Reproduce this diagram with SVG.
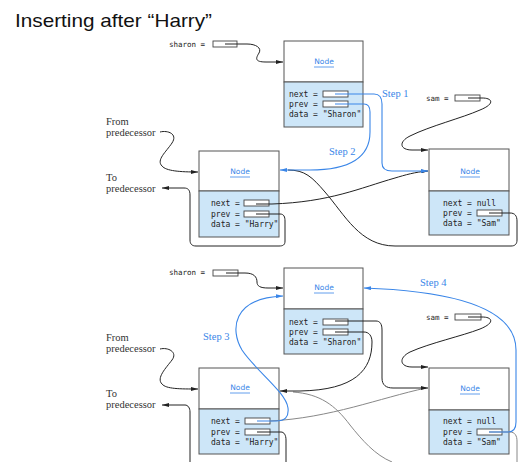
<svg xmlns="http://www.w3.org/2000/svg" width="518" height="462" viewBox="0 0 518 462">
<defs>
<style>
.title{font-family:"Liberation Sans",Arial,sans-serif;font-size:19px;fill:#111}
.mono{font-family:"DejaVu Sans Mono","Liberation Mono",monospace;font-size:8px;fill:#222}
.var{font-family:"DejaVu Sans Mono","Liberation Mono",monospace;font-size:7.5px;fill:#222}
.serif{font-family:"Liberation Serif","Times New Roman",serif;font-size:10.5px;fill:#333}
.step{font-family:"Liberation Serif","Times New Roman",serif;font-size:10.5px;fill:#3a86e8}
.nl{font-family:"DejaVu Sans",sans-serif;font-size:7.5px;fill:#3a86e8;text-anchor:middle}
.ul{stroke:#3a86e8;stroke-width:0.8}
.hdr{fill:#fff;stroke:#555;stroke-width:1}
.body{fill:#cde6f8;stroke:#555;stroke-width:1}
.ptr{fill:#fff;stroke:#444;stroke-width:0.9}
.k{fill:none;stroke:#222;stroke-width:1}
.g{fill:none;stroke:#888;stroke-width:1}
.b{fill:none;stroke:#3a86e8;stroke-width:1.1}
</style>
<marker id="ak" viewBox="0 0 7 4" refX="7" refY="2" markerWidth="7" markerHeight="4" markerUnits="userSpaceOnUse" orient="auto"><path d="M0,0 L7,2 L0,4 z" fill="#222"/></marker>
<marker id="ab" viewBox="0 0 7 4" refX="7" refY="2" markerWidth="7" markerHeight="4" markerUnits="userSpaceOnUse" orient="auto"><path d="M0,0 L7,2 L0,4 z" fill="#3a86e8"/></marker>
</defs>
<rect width="518" height="462" fill="#fff"/>
<text class="title" x="15" y="27" textLength="197" lengthAdjust="spacingAndGlyphs">Inserting after “Harry”</text>

<!-- ===== Top figure ===== -->
<g id="sharon-var-1">
<text class="var" x="169" y="47">sharon =</text>
<rect class="ptr" x="213" y="41" width="24" height="6"/>
</g>
<g id="sam-var-1">
<text class="var" x="426" y="101">sam =</text>
<rect class="ptr" x="455" y="95" width="25" height="6"/>
</g>
<g id="from-pred-1"><text class="serif" x="106" y="125">From</text><text class="serif" x="106" y="136">predecessor</text></g>
<g id="to-pred-1"><text class="serif" x="106" y="181">To</text><text class="serif" x="106" y="192">predecessor</text></g>

<g id="node-sharon-1">
<rect class="hdr" x="284" y="41" width="79" height="41"/>
<rect class="body" x="284" y="82" width="79" height="45"/>
<text class="nl" x="324" y="64">Node</text><line class="ul" x1="314" y1="67" x2="334" y2="67"/>
<text class="mono" x="289" y="97">next =</text><rect class="ptr" x="323" y="91" width="25" height="6"/>
<text class="mono" x="289" y="107">prev =</text><rect class="ptr" x="323" y="101" width="25" height="6"/>
<text class="mono" x="289" y="117">data = "Sharon"</text>
</g>
<g id="node-harry-1">
<rect class="hdr" x="199" y="151" width="80" height="40"/>
<rect class="body" x="199" y="191" width="80" height="46"/>
<text class="nl" x="240" y="174">Node</text><line class="ul" x1="230" y1="177" x2="250" y2="177"/>
<text class="mono" x="211" y="206">next =</text><rect class="ptr" x="244" y="200" width="25" height="6"/>
<text class="mono" x="211" y="217">prev =</text><rect class="ptr" x="244" y="211" width="25" height="6"/>
<text class="mono" x="211" y="227">data = "Harry"</text>
</g>
<g id="node-sam-1">
<rect class="hdr" x="429" y="149" width="80" height="42"/>
<rect class="body" x="429" y="191" width="80" height="44"/>
<text class="nl" x="470" y="174">Node</text><line class="ul" x1="460" y1="177" x2="480" y2="177"/>
<text class="mono" x="443" y="206">next = null</text>
<text class="mono" x="443" y="216">prev =</text><rect class="ptr" x="477" y="210" width="25" height="6"/>
<text class="mono" x="443" y="226">data = "Sam"</text>
</g>
<g id="step-labels-1">
<text class="step" x="382" y="97">Step 1</text>
<text class="step" x="329" y="155">Step 2</text>
</g>

<!-- ===== Bottom figure ===== -->
<g id="sharon-var-2">
<text class="var" x="169" y="275">sharon =</text>
<rect class="ptr" x="213" y="270" width="25" height="6"/>
</g>
<g id="sam-var-2">
<text class="var" x="426" y="320">sam =</text>
<rect class="ptr" x="455" y="314" width="26" height="6"/>
</g>
<g id="from-pred-2"><text class="serif" x="106" y="341">From</text><text class="serif" x="106" y="352">predecessor</text></g>
<g id="to-pred-2"><text class="serif" x="106" y="397">To</text><text class="serif" x="106" y="408">predecessor</text></g>

<g id="node-sharon-2">
<rect class="hdr" x="284" y="268" width="79" height="41"/>
<rect class="body" x="284" y="309" width="79" height="45"/>
<text class="nl" x="324" y="290">Node</text><line class="ul" x1="314" y1="293" x2="334" y2="293"/>
<text class="mono" x="289" y="325">next =</text><rect class="ptr" x="323" y="319" width="25" height="6"/>
<text class="mono" x="289" y="335">prev =</text><rect class="ptr" x="323" y="329" width="25" height="6"/>
<text class="mono" x="289" y="345">data = "Sharon"</text>
</g>
<g id="node-harry-2">
<rect class="hdr" x="199" y="368" width="80" height="41"/>
<rect class="body" x="199" y="409" width="80" height="45"/>
<text class="nl" x="240" y="390">Node</text><line class="ul" x1="230" y1="393" x2="250" y2="393"/>
<text class="mono" x="211" y="424">next =</text><rect class="ptr" x="245" y="418" width="25" height="6"/>
<text class="mono" x="211" y="435">prev =</text><rect class="ptr" x="245" y="429" width="25" height="6"/>
<text class="mono" x="211" y="445">data = "Harry"</text>
</g>
<g id="node-sam-2">
<rect class="hdr" x="429" y="368" width="80" height="42"/>
<rect class="body" x="429" y="410" width="80" height="44"/>
<text class="nl" x="470" y="391">Node</text><line class="ul" x1="460" y1="394" x2="480" y2="394"/>
<text class="mono" x="443" y="424">next = null</text>
<text class="mono" x="443" y="435">prev =</text><rect class="ptr" x="477" y="429" width="25" height="6"/>
<text class="mono" x="443" y="445">data = "Sam"</text>
</g>
<g id="step-labels-2">
<text class="step" x="203" y="340">Step 3</text>
<text class="step" x="420" y="286">Step 4</text>
</g>

<g id="connectors">
<!-- top -->
<path class="k" d="M225,44 H247 C256,44 262,48 259,53 C256,58 254,62 266,62 H283" marker-end="url(#ak)"/>
<path class="k" d="M160,132 C168,130 178,134 172,143 C166,152 156,160 162,166 C166,171 180,172 198,172" marker-end="url(#ak)"/>
<path class="k" d="M256,214 H280 C284,214 285,217 285,221 V241 C285,245 283,246 279,246 H196 C192,246 190,244 190,240 V195 C190,190 188,188 184,188 H162" marker-end="url(#ak)"/>
<path class="k" d="M489,213 H510 C515,213 517,216 517,221 V240 C517,244 515,246 511,246 H395 C360,246 345,215 325,192 C312,177 305,170 288,170"/>
<path class="k" d="M468,98 H482 C493,98 495,104 480,110 C462,118 430,126 410,136 C398,142 400,150 412,150 H428" marker-end="url(#ak)"/>
<path class="k" d="M256,204 H272 C330,202 360,188 395,178 C405,175 415,172 428,171" marker-end="url(#ak)"/>
<path class="b" d="M335,94 H374 C380,94 382,98 382,104 V163 C382,169 386,171 392,171 H428" marker-end="url(#ab)"/>
<path class="b" d="M335,104 H364 C368,104 370,107 370,112 V132 C370,160 345,170 310,170 H280" marker-end="url(#ab)"/>
<!-- bottom -->
<path class="k" d="M226,273 H245 C254,273 257,277 257,282 C257,286 260,288 268,288 H283" marker-end="url(#ak)"/>
<path class="k" d="M160,349 C168,347 178,352 172,360 C166,368 156,378 162,384 C166,389 180,389 198,389" marker-end="url(#ak)"/>
<path class="k" d="M190,462 V412 C190,408 188,405 185,405 H162" marker-end="url(#ak)"/>
<path class="k" d="M257,432 H281 C284,432 286,435 286,440 V462"/>
<path class="g" d="M489,432 H510 C515,432 517,436 517,441 V462"/>
<path class="g" d="M293,392 C320,394 335,405 350,425 C362,440 375,455 392,462"/>
<path class="g" d="M270,421 C330,418 380,398 426,388"/>
<path class="k" d="M335,321 H376 C380,321 382,324 382,330 V378 C382,385 386,388 393,388 H428" marker-end="url(#ak)"/>
<path class="k" d="M335,332 H364 C369,332 372,336 372,342 C372,370 355,390 300,391 H280" marker-end="url(#ak)"/>
<path class="k" d="M468,317 H482 C493,317 495,323 480,329 C462,336 430,343 410,352 C398,358 400,367 412,367 H428" marker-end="url(#ak)"/>
<path class="b" d="M257,421 H276 C285,421 289,417 288,408 C286,392 255,370 242,350 C230,330 232,298 283,296" marker-end="url(#ab)"/>
<path class="b" d="M489,432 H508 C513,432 516,429 516,422 V350 C516,318 480,292 364,288" marker-end="url(#ab)"/>
</g>
</svg>
